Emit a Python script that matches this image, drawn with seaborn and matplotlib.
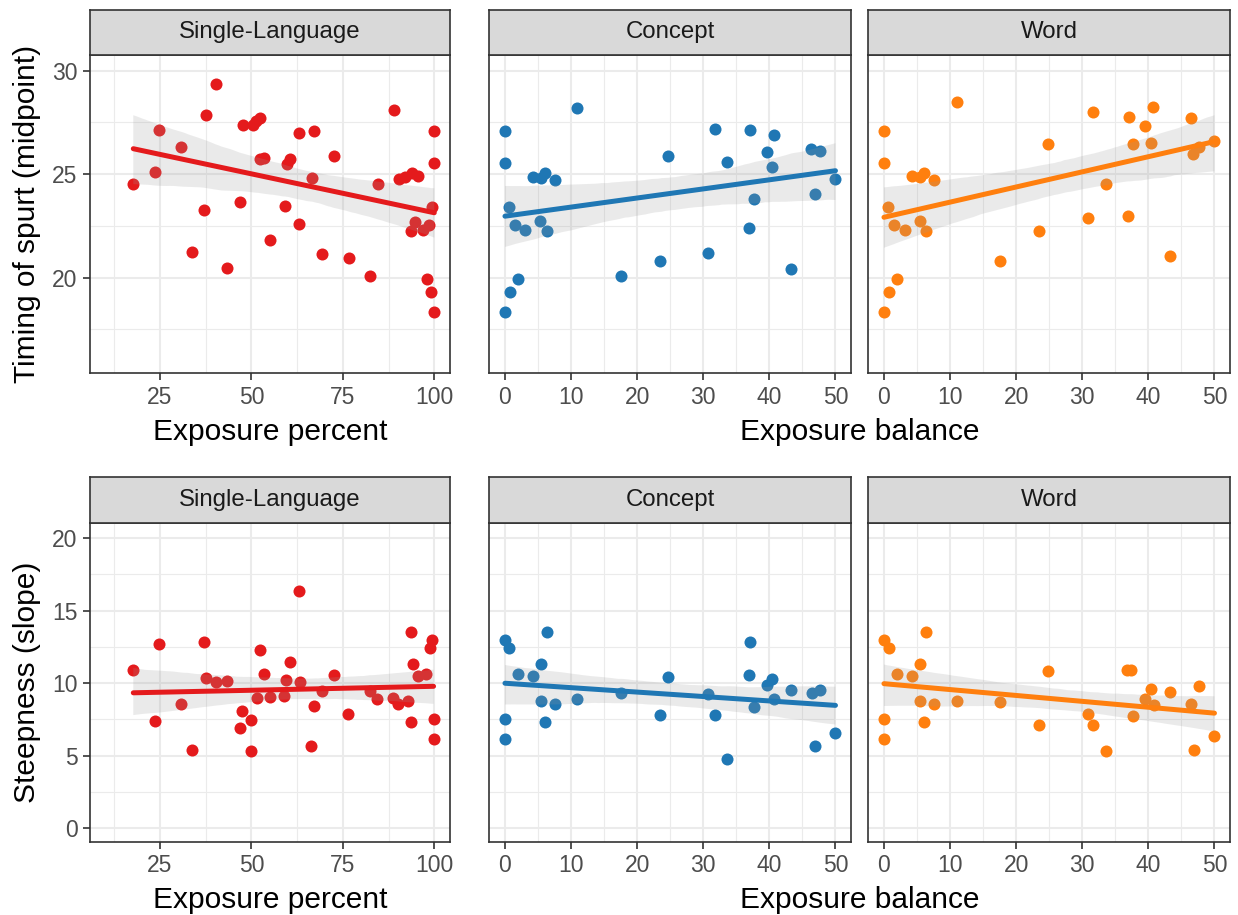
import numpy as np
import seaborn as sns
import matplotlib.pyplot as plt
from matplotlib.ticker import MultipleLocator

# ---- data (one list per panel) ----
# top row: timing of spurt (midpoint)
single_x_top = [17.7, 23.5, 24.8, 30.7, 33.8, 36.9, 37.7, 40.4, 43.2, 47.0, 47.6,
                50.3, 51.2, 52.3, 52.3, 53.5, 55.1, 59.1, 59.6, 60.6, 63.0, 63.1,
                66.5, 67.1, 69.4, 72.5, 76.6, 82.5, 84.5, 89.0, 90.3, 92.0, 93.9,
                95.6, 93.6, 94.7, 96.8, 98.6, 99.3, 100.0, 100.0, 98.1, 99.1, 100.0]
single_timing = [24.51, 25.12, 27.12, 26.31, 21.23, 23.27, 27.86, 29.34, 20.47, 23.64, 27.36,
                 27.36, 27.57, 27.73, 25.72, 25.77, 21.82, 23.46, 25.48, 25.75, 27.00, 22.59,
                 24.82, 27.09, 21.15, 25.88, 20.94, 20.07, 24.53, 28.09, 24.75, 24.88, 25.04,
                 24.91, 22.26, 22.71, 22.30, 22.55, 23.43, 27.09, 25.53, 19.92, 19.31, 18.34]

concept_x_top = [0.0, 0.0, 0.6, 1.5, 3.1, 0.7, 1.9, 0.0, 4.2, 5.4, 6.0, 7.6, 5.3, 6.3,
                 10.9, 17.5, 23.4, 24.7, 30.7, 31.7, 33.6, 36.9, 37.0, 37.7, 39.6, 40.4,
                 40.7, 43.2, 46.3, 47.6, 46.9, 50.0]
concept_timing = [27.09, 25.53, 23.43, 22.55, 22.30, 19.29, 19.92, 18.34, 24.88, 24.83, 25.04,
                  24.72, 22.74, 22.26, 28.20, 20.10, 20.81, 25.88, 21.18, 27.18, 25.57, 22.39,
                  27.14, 23.80, 26.06, 25.33, 26.89, 20.42, 26.22, 26.12, 24.04, 24.78]

word_x_top = [0.0, 0.0, 0.65, 1.5, 3.2, 0.8, 2.0, 0.0, 4.3, 5.5, 6.0, 7.6, 5.4, 6.4,
              11.0, 17.6, 23.5, 24.8, 30.8, 31.6, 33.6, 36.9, 37.1, 37.7, 39.5, 40.4,
              40.7, 43.3, 46.4, 46.8, 47.6, 50.0]
word_timing = [27.09, 25.53, 23.43, 22.55, 22.30, 19.29, 19.92, 18.34, 24.91, 24.85, 25.07,
               24.72, 22.74, 22.26, 28.49, 20.79, 22.26, 26.44, 22.90, 27.99, 24.51, 23.00,
               27.78, 26.46, 27.33, 26.49, 28.23, 21.05, 27.73, 25.96, 26.33, 26.62]

# bottom row: steepness (slope)
single_x_bot = [17.7, 23.6, 24.8, 30.7, 33.7, 36.9, 37.6, 40.4, 43.2, 46.9, 47.5, 50.0,
                50.0, 51.6, 52.3, 53.5, 55.0, 59.0, 59.5, 60.5, 62.9, 63.2, 66.4, 67.0,
                69.3, 72.5, 76.5, 82.4, 84.3, 88.8, 90.0, 92.9, 93.5, 93.6, 94.3, 95.5,
                97.7, 98.9, 99.5, 99.8, 99.8]
single_steep = [10.92, 7.38, 12.69, 8.53, 5.40, 12.87, 10.34, 10.07, 10.16, 6.87, 8.05, 7.43,
                5.33, 8.97, 12.25, 10.62, 9.03, 9.08, 10.21, 11.43, 16.39, 10.05, 5.68, 8.41,
                9.47, 10.57, 7.86, 9.45, 8.92, 8.94, 8.55, 8.78, 13.52, 7.33, 11.29, 10.51,
                10.64, 12.41, 12.99, 7.54, 6.14]

concept_x_bot = [0.0, 0.65, 0.0, 0.0, 1.9, 4.3, 5.4, 6.3, 5.4, 7.5, 6.0, 10.9, 17.5,
                 23.4, 24.7, 30.7, 31.7, 33.6, 37.0, 36.9, 37.7, 39.6, 40.4, 40.7, 43.2,
                 46.4, 47.7, 46.9, 50.0]
concept_steep = [12.99, 12.39, 7.52, 6.14, 10.64, 10.46, 11.29, 13.52, 8.78, 8.55, 7.33, 8.90,
                 9.31, 7.77, 10.39, 9.24, 7.79, 4.76, 12.83, 10.57, 8.34, 9.84, 10.28, 8.92,
                 9.49, 9.31, 9.49, 5.63, 6.55]

word_x_bot = [0.0, 0.75, 0.0, 0.0, 1.9, 4.3, 5.4, 6.4, 5.5, 7.6, 6.0, 11.0, 17.6, 23.5,
              24.8, 30.8, 31.6, 33.6, 36.8, 37.3, 37.7, 39.5, 40.4, 40.8, 43.3, 46.5,
              47.7, 46.9, 50.0]
word_steep = [12.99, 12.39, 7.52, 6.14, 10.64, 10.46, 11.29, 13.52, 8.78, 8.55, 7.33, 8.74,
              8.71, 7.10, 10.85, 7.84, 7.10, 5.33, 10.92, 10.92, 7.70, 8.92, 9.59, 8.46,
              9.40, 8.57, 9.77, 5.40, 6.32]

panel_names = ['Single-Language', 'Concept', 'Word']
colors = ['#E41A1C', '#1F77B4', '#FF7F0E']

sns.set_style('white')
plt.rcParams['font.family'] = ['Liberation Sans', 'DejaVu Sans']

W, H = 1238, 915
fig = plt.figure(figsize=(W / 100, H / 100), dpi=100)

# panel edges in pixels (left, right) and rows (top, bottom, strip top)
cols_px = [(90, 450), (489.3, 851), (868.3, 1230)]
rows_px = [(55, 373.3, 9.5), (523.3, 841.7, 477.3)]


def add_panel(col, row, x, y, color, xlim, ylim, xmaj, ymaj):
    l, r = cols_px[col]
    t, b, st = rows_px[row]
    ax = fig.add_axes([l / W, 1 - b / H, (r - l) / W, (b - t) / H])
    sns.regplot(x=np.array(x), y=np.array(y), ax=ax, color=color, ci=95,
                n_boot=1000, seed=3,
                scatter_kws={'s': 75, 'alpha': 1, 'linewidths': 0, 'zorder': 1},
                line_kws={'lw': 3.6, 'zorder': 3})
    band = ax.collections[-1]
    band.set_facecolor('#999999')
    band.set_alpha(0.2)
    band.set_edgecolor('none')
    band.set_zorder(2)
    ax.set_xlim(*xlim)
    ax.set_ylim(*ylim)
    ax.xaxis.set_major_locator(MultipleLocator(xmaj))
    ax.xaxis.set_minor_locator(MultipleLocator(xmaj / 2))
    ax.yaxis.set_major_locator(MultipleLocator(ymaj))
    ax.yaxis.set_minor_locator(MultipleLocator(ymaj / 2))
    ax.set_axisbelow(True)
    ax.grid(which='major', color='#EBEBEB', lw=1.5)
    ax.grid(which='minor', color='#EBEBEB', lw=0.8)
    ax.tick_params(which='major', length=5, width=1.2, color='#333333',
                   labelcolor='#4D4D4D', labelsize=16.5, pad=4,
                   bottom=True, left=True)
    ax.tick_params(which='minor', length=0)
    if col > 0:
        ax.tick_params(axis='y', which='both', left=False, labelleft=False)
    for sp in ax.spines.values():
        sp.set_visible(True)
        sp.set_color('#333333')
        sp.set_linewidth(1.2)
    ax.set_xlabel('')
    ax.set_ylabel('')

    # facet strip
    sax = fig.add_axes([l / W, 1 - t / H, (r - l) / W, (t - st) / H])
    sax.set_facecolor('#D9D9D9')
    sax.set_xticks([])
    sax.set_yticks([])
    for sp in sax.spines.values():
        sp.set_color('#333333')
        sp.set_linewidth(1.2)
    sax.text(0.5, 0.5, panel_names[col], ha='center', va='center',
             fontsize=17.3, color='#1A1A1A', transform=sax.transAxes)
    return ax


ylim_top = (15.38, 30.76)
ylim_bot = (-0.95, 21.03)
xlim_single = (5.86, 104.3)
xlim_bal = (-2.37, 52.35)

add_panel(0, 0, single_x_top, single_timing, colors[0], xlim_single, ylim_top, 25, 5)
add_panel(1, 0, concept_x_top, concept_timing, colors[1], xlim_bal, ylim_top, 10, 5)
add_panel(2, 0, word_x_top, word_timing, colors[2], xlim_bal, ylim_top, 10, 5)
add_panel(0, 1, single_x_bot, single_steep, colors[0], xlim_single, ylim_bot, 25, 5)
add_panel(1, 1, concept_x_bot, concept_steep, colors[1], xlim_bal, ylim_bot, 10, 5)
add_panel(2, 1, word_x_bot, word_steep, colors[2], xlim_bal, ylim_bot, 10, 5)

# axis titles
for base in (440, 908):
    fig.text(270 / W, 1 - base / H, 'Exposure percent', ha='center', va='baseline',
             fontsize=21.5, color='black')
    fig.text(859.6 / W, 1 - base / H, 'Exposure balance', ha='center', va='baseline',
             fontsize=21.5, color='black')
fig.text(27 / W, 1 - 214 / H, 'Timing of spurt (midpoint)', rotation=90,
         ha='center', va='center', fontsize=21.5, color='black')
fig.text(27 / W, 1 - 682.5 / H, 'Steepness (slope)', rotation=90,
         ha='center', va='center', fontsize=21.5, color='black')

plt.savefig('out.png', dpi=100)
